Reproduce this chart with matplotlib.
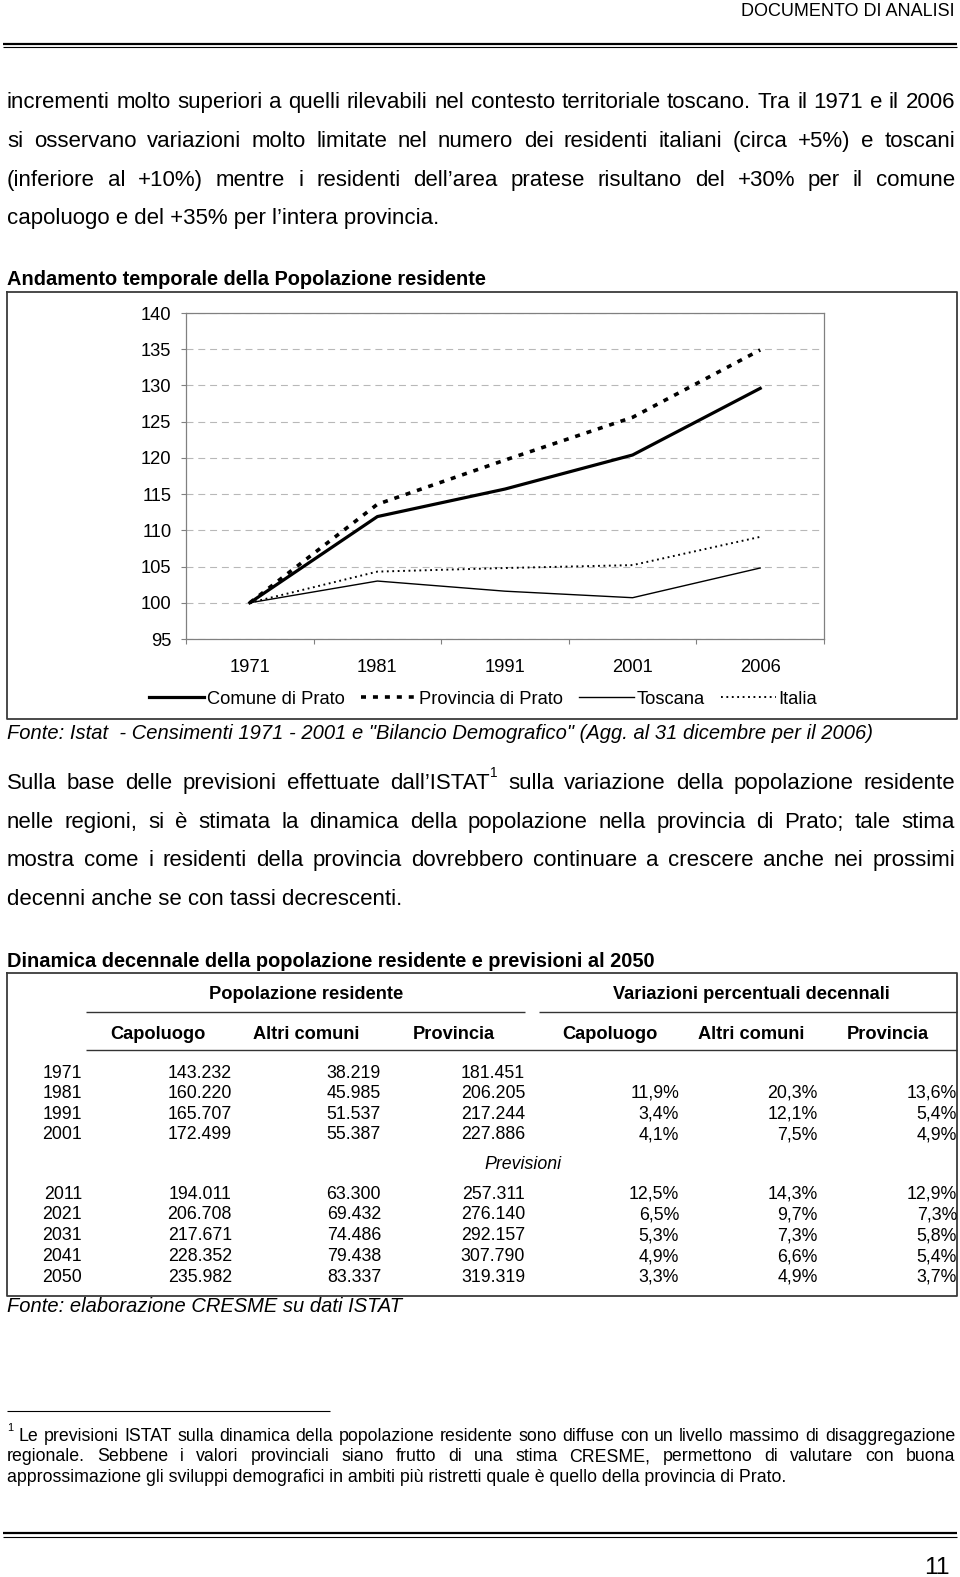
import matplotlib
matplotlib.use('Agg')
import matplotlib.pyplot as plt
import numpy as np

plt.rcParams['font.family'] = ['Liberation Sans', 'DejaVu Sans']
plt.rcParams['lines.scale_dashes'] = False

# ---------------- data ----------------
years = ['1971', '1981', '1991', '2001', '2006']
comune_prato = [100.0, 111.9, 115.7, 120.4, 129.6]
provincia_prato = [100.0, 113.6, 119.7, 125.6, 134.9]
toscana = [100.0, 103.0, 101.6, 100.7, 104.8]
italia = [100.0, 104.3, 104.8, 105.2, 109.1]
series_labels = ['Comune di Prato', 'Provincia di Prato', 'Toscana', 'Italia']
yticks = [95, 100, 105, 110, 115, 120, 125, 130, 135, 140]

table_years = ['1971', '1981', '1991', '2001', '2011', '2021', '2031', '2041', '2050']
capoluogo = [143232, 160220, 165707, 172499, 194011, 206708, 217671, 228352, 235982]
altri_comuni = [38219, 45985, 51537, 55387, 63300, 69432, 74486, 79438, 83337]
provincia = [181451, 206205, 217244, 227886, 257311, 276140, 292157, 307790, 319319]
var_capoluogo = [None, 11.9, 3.4, 4.1, 12.5, 6.5, 5.3, 4.9, 3.3]
var_altri = [None, 20.3, 12.1, 7.5, 14.3, 9.7, 7.3, 6.6, 4.9]
var_provincia = [None, 13.6, 5.4, 4.9, 12.9, 7.3, 5.8, 5.4, 3.7]
col_headers = ['Capoluogo', 'Altri comuni', 'Provincia', 'Capoluogo', 'Altri comuni', 'Provincia']

para1 = ["incrementi molto superiori a quelli rilevabili nel contesto territoriale toscano. Tra il 1971 e il 2006",
         "si osservano variazioni molto limitate nel numero dei residenti italiani (circa +5%) e toscani",
         "(inferiore al +10%) mentre i residenti dell\u2019area pratese risultano del +30% per il comune",
         "capoluogo e del +35% per l\u2019intera provincia."]
para2 = ["Sulla base delle previsioni effettuate dall\u2019ISTAT^1 sulla variazione della popolazione residente",
         "nelle regioni, si \u00e8 stimata la dinamica della popolazione nella provincia di Prato; tale stima",
         "mostra come i residenti della provincia dovrebbero continuare a crescere anche nei prossimi",
         "decenni anche se con tassi decrescenti."]
foot = ["^1 Le previsioni ISTAT sulla dinamica della popolazione residente sono diffuse con un livello massimo di disaggregazione",
        "regionale. Sebbene i valori provinciali siano frutto di una stima CRESME, permettono di valutare con buona",
        "approssimazione gli sviluppi demografici in ambiti pi\u00f9 ristretti quale \u00e8 quello della provincia di Prato."]

# ---------------- page ----------------
W, H = 960, 1577
fig = plt.figure(figsize=(W / 100, H / 100), dpi=100)
page = fig.add_axes([0, 0, 1, 1])
page.set_xlim(0, W)
page.set_ylim(H, 0)
page.axis('off')
R = fig.canvas.get_renderer()
SUP = 0.62


def tw(s, size, **kw):
    if not s:
        return 0.0
    t = page.text(0, 0, s, fontsize=size, **kw)
    w = t.get_window_extent(renderer=R).width
    t.remove()
    return w


def word_w(w, size, **kw):
    if '^' in w:
        base, sup = w.split('^')
        return tw(base, size, **kw) + tw(sup, size * SUP, **kw) + (1 if base else 0)
    return tw(w, size, **kw)


def fit(s, width, **kw):
    return 20 * width / tw(s, 20, **kw)


def put(x, y, s, size, ha='left', **kw):
    base = y + 0.34 * size * 100 / 72
    return page.text(x, base, s, fontsize=size, ha=ha, va='baseline', **kw)


def put_word(x, y, w, size, **kw):
    if '^' in w:
        base, sup = w.split('^')
        bw = tw(base, size, **kw)
        if base:
            put(x, y, base, size, **kw)
            bw += 1
        em = size * 100 / 72
        put(x + bw, y - 0.42 * em, sup, size * SUP, **kw)
    else:
        put(x, y, w, size, **kw)


def justify(line, x0, x1, y, size, **kw):
    words = line.split(' ')
    ws = [word_w(w, size, **kw) for w in words]
    gap = (x1 - x0 - sum(ws)) / (len(words) - 1)
    x = x0
    for w, wd in zip(words, ws):
        put_word(x, y, w, size, **kw)
        x += wd + gap


def hline(x0, x1, y, lw, color='black'):
    page.plot([x0, x1], [y, y], color=color, lw=lw, solid_capstyle='butt')


# header
fs_head = fit('DOCUMENTO DI ANALISI', 213)
put(955, 10, 'DOCUMENTO DI ANALISI', fs_head, ha='right')
hline(3, 957, 43.5, 1.6)
hline(3, 957, 47.2, 0.8)

# paragraph 1
fs_body = fit(para1[-1], 432)
ys1 = [100.6, 139.8, 178.0, 216.2]
for i, (ln, y) in enumerate(zip(para1, ys1)):
    if i < len(para1) - 1:
        justify(ln, 7, 955, y, fs_body)
    else:
        put(7, y, ln, fs_body)

# chart title + frame
fs_title = fit('Andamento temporale della Popolazione residente', 480, fontweight='bold')
put(7, 278.6, 'Andamento temporale della Popolazione residente', fs_title, fontweight='bold')
page.plot([7, 957, 957, 7, 7], [291.7, 291.7, 719, 719, 291.7], color='#3a3a3a', lw=1.3)

# chart
fs_chart = fit('Provincia di Prato', 144)
ax = fig.add_axes([186 / W, 1 - 639 / H, 638 / W, 326 / H])
x = np.arange(len(years))
l1, = ax.plot(x, comune_prato, color='black', lw=2.3)
l2, = ax.plot(x, provincia_prato, color='black', lw=2.6, ls=(0, (3.6, 5.0)))
l3, = ax.plot(x, toscana, color='black', lw=1.0)
l4, = ax.plot(x, italia, color='black', lw=1.4, ls=(0, (1.3, 2.6)))
ax.set_xlim(-0.5, len(years) - 0.5)
ax.set_ylim(95, 140)
ax.set_yticks(yticks)
ax.set_yticklabels([str(v) for v in yticks])
ax.set_xticks(x)
ax.set_xticklabels(years)
ax.set_xticks(np.arange(-0.5, len(years), 1), minor=True)
ax.tick_params(axis='x', which='major', length=0, pad=14.4, labelsize=fs_chart)
ax.tick_params(axis='x', which='minor', length=3.6, color='#808080', width=0.8, direction='out')
ax.tick_params(axis='y', length=3.6, pad=7, color='#808080', width=0.8, labelsize=fs_chart)
for sp in ax.spines.values():
    sp.set_color('#808080')
    sp.set_linewidth(0.9)
ax.set_axisbelow(True)
ax.yaxis.grid(True, ls=(0, (5, 3.5)), color='#b8b8b8', lw=0.8)

em_c = fs_chart * 100 / 72
fig.legend([l1, l2, l3, l4], series_labels, loc='center', bbox_to_anchor=(483 / W, 1 - 699 / H),
           ncol=4, frameon=False, fontsize=fs_chart, handlelength=55 / em_c,
           handletextpad=3 / em_c, columnspacing=16 / em_c, borderpad=0, borderaxespad=0)

fonte1 = 'Fonte: Istat  - Censimenti 1971 - 2001 e "Bilancio Demografico" (Agg. al 31 dicembre per il 2006)'
fs_fonte = fit(fonte1, 859, fontstyle='italic')
put(7, 732.2, fonte1, fs_fonte, fontstyle='italic')

# paragraph 2
ys2 = [781.4, 820.6, 858.9, 897.1]
for i, (ln, y) in enumerate(zip(para2, ys2)):
    if i < len(para2) - 1:
        justify(ln, 7, 955, y, fs_body)
    else:
        put(7, y, ln, fs_body)

# table
ttitle = 'Dinamica decennale della popolazione residente e previsioni al 2050'
put(7, 960.4, ttitle, fs_title, fontweight='bold')
page.plot([7, 957, 957, 7, 7], [972.5, 972.5, 1296, 1296, 972.5], color='#3a3a3a', lw=1.3)
fs_th = fit('Variazioni percentuali decennali', 277, fontweight='bold')
put(306, 993, 'Popolazione residente', fs_th, ha='center', fontweight='bold')
put(751, 993, 'Variazioni percentuali decennali', fs_th, ha='center', fontweight='bold')
hline(86, 525, 1011.7, 1.0, '#333333')
hline(539, 957, 1011.7, 1.0, '#333333')
hline(86, 957, 1050, 1.0, '#333333')
head_x = [158, 306, 454, 610, 751, 888]
for hx, hs in zip(head_x, col_headers):
    put(hx, 1033, hs, fs_th, ha='center', fontweight='bold')

fs_tab = fit('143.232', 64)
row_y = [1071.7, 1091.7, 1112.7, 1133.3, 1192.7, 1213.3, 1234.0, 1255.0, 1275.7]
col_right = [82, 232, 381, 525, 679, 818, 957]


def fmt_int(v):
    return f'{v:,}'.replace(',', '.')


def fmt_pct(v):
    return '' if v is None else f'{v:.1f}%'.replace('.', ',')


for i, y in enumerate(row_y):
    cells = [table_years[i], fmt_int(capoluogo[i]), fmt_int(altri_comuni[i]), fmt_int(provincia[i]),
             fmt_pct(var_capoluogo[i]), fmt_pct(var_altri[i]), fmt_pct(var_provincia[i])]
    for cx, c in zip(col_right, cells):
        if c:
            put(cx, y, c, fs_tab, ha='right')
put(522.7, 1163, 'Previsioni', fs_tab, ha='center', fontstyle='italic')

fonte2 = 'Fonte: elaborazione CRESME su dati ISTAT'
put(7, 1305, fonte2, fs_fonte, fontstyle='italic')

# footnote
hline(7, 330, 1411, 0.8)
fs_foot = fit(foot[-1], 782)
ys3 = [1435.1, 1455.3, 1476.4]
for i, (ln, y) in enumerate(zip(foot, ys3)):
    if i < len(foot) - 1:
        justify(ln, 7, 955, y, fs_foot)
    else:
        put(7, y, ln, fs_foot)

hline(3, 957, 1533.2, 1.6)
hline(3, 957, 1536.9, 0.8)
put(950, 1566, '11', fs_body * 1.1, ha='right')

fig.savefig('out.png', dpi=100)
